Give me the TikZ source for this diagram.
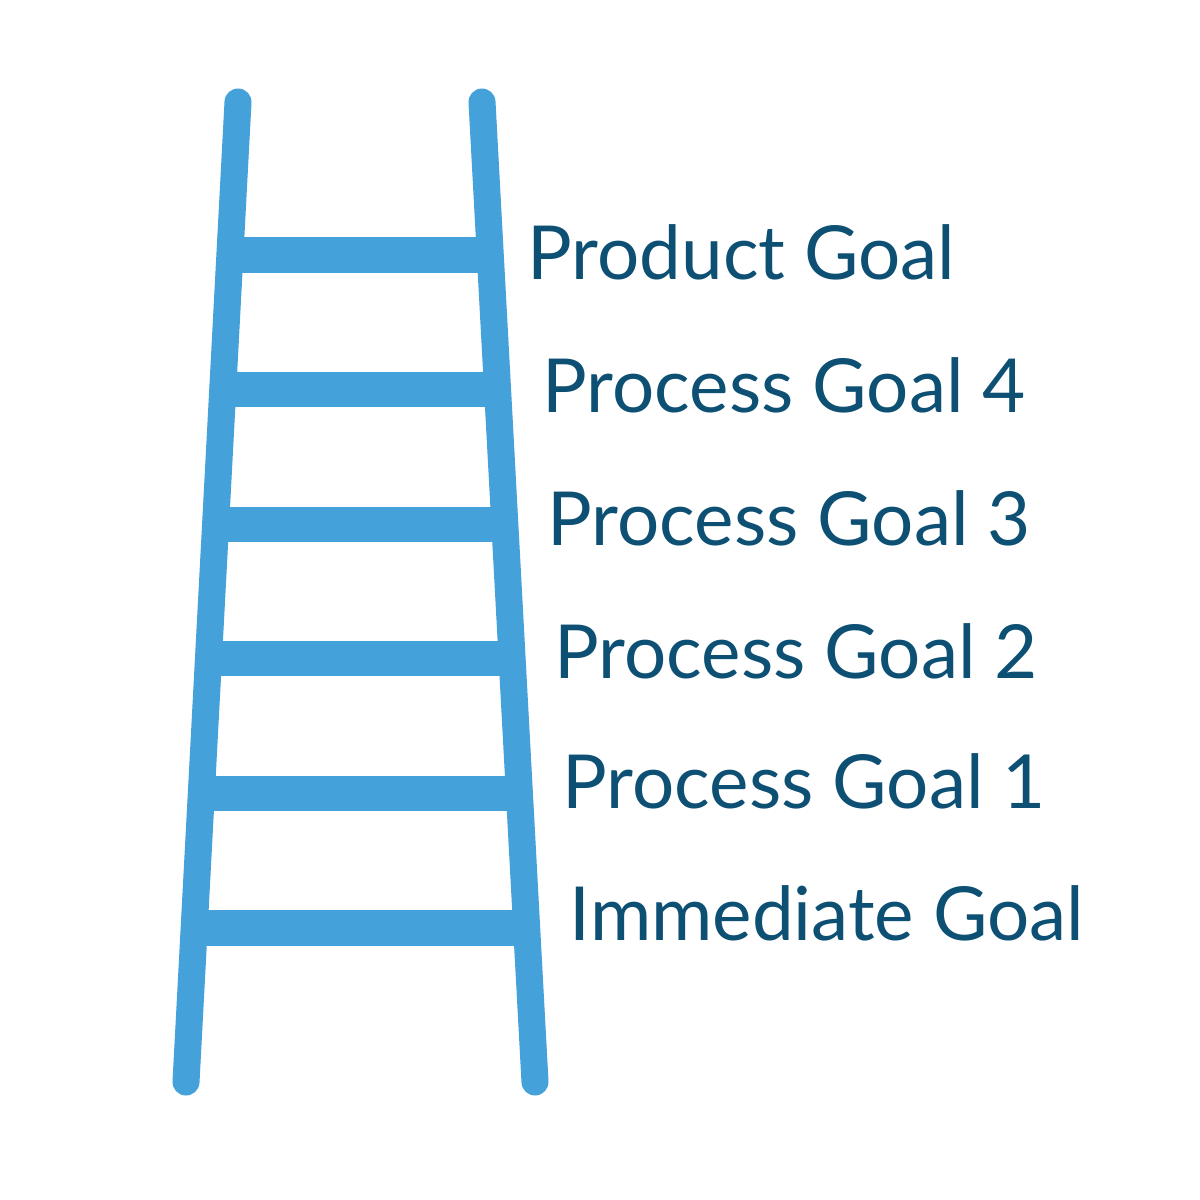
\documentclass[tikz,border=0pt]{standalone}
\usepackage{fontspec}
\setmainfont{Lato}
\usetikzlibrary{calc}
\definecolor{ladder}{HTML}{45A1D9}
\definecolor{goaltext}{HTML}{0D5074}
\begin{document}
\begin{tikzpicture}[x=0.01cm,y=-0.01cm,
  rail/.style={draw=ladder,line width=0.27cm,line cap=round},
  rung/.style={draw=ladder,line width=0.35cm},
  goal/.style={anchor=base west,inner sep=0pt,text=goaltext,font=\fontsize{21.2}{24}\selectfont}]
\useasboundingbox[fill=white] (0,0) rectangle (1200,1200);
\coordinate (lt) at (238,102);
\coordinate (lb) at (186,1082);
\coordinate (rt) at (482,102);
\coordinate (rb) at (535,1082);
\draw[rail] (lt) -- (lb);
\draw[rail] (rt) -- (rb);
\foreach \y in {255,389.6,524.2,658.8,793.4,928}{
  \draw[rung] ($(lt)!{(\y-102)/980}!(lb)$) -- ($(rt)!{(\y-102)/980}!(rb)$);
}
\node[goal] (g6) at (527,279) {Product Goal};
\node[goal] (g5) at (542,412) {Process Goal 4};
\node[goal] (g4) at (547,545) {Process Goal 3};
\node[goal] (g3) at (554,678) {Process Goal 2};
\node[goal] (g2) at (562,808) {Process Goal 1};
\node[goal] (g1) at (569,940) {Immediate Goal};
\end{tikzpicture}
\end{document}
